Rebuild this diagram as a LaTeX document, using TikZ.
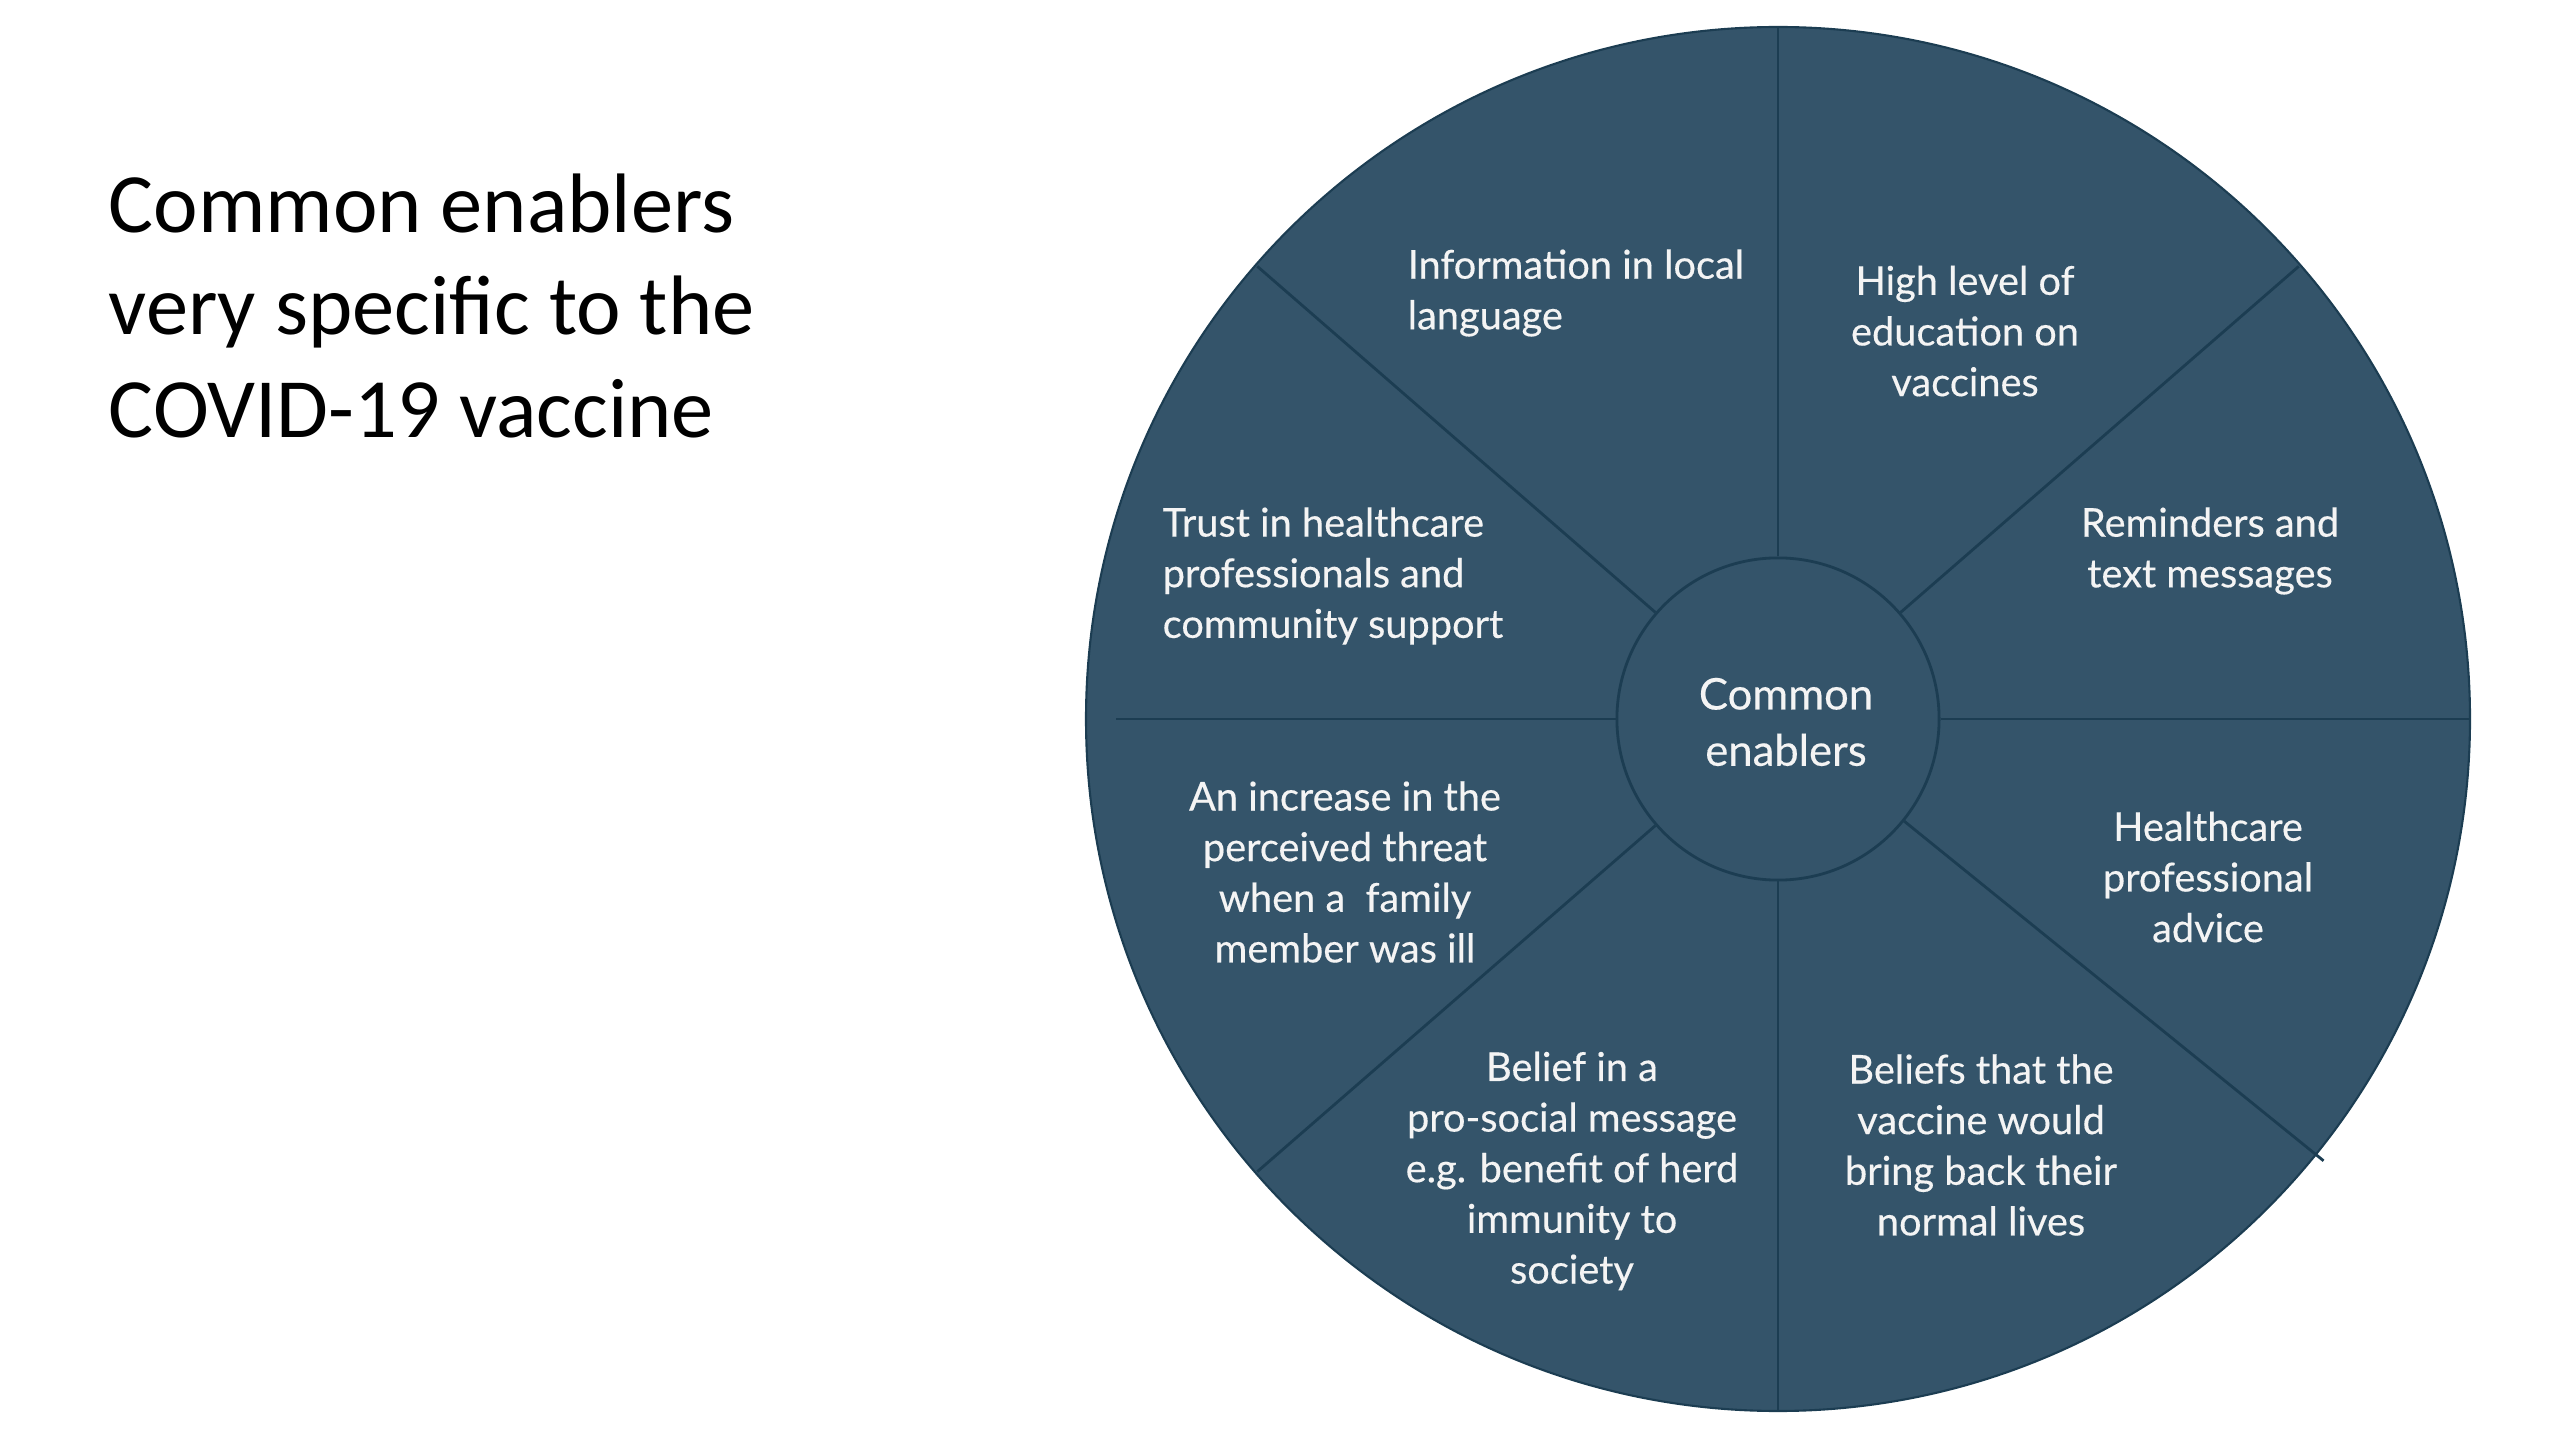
\documentclass[tikz,border=0pt]{standalone}
\usepackage{fontspec}
\setmainfont{Lato}
\newfontfamily\titlefont{Carlito}
\newfontfamily\wheelfont{Lato}[FakeBold=0.35]
\usetikzlibrary{calc}
\definecolor{wheelfill}{HTML}{34546A}
\definecolor{spokecol}{HTML}{1C3D52}
\definecolor{txtcol}{HTML}{F4F4F4}
\begin{document}
\begin{tikzpicture}[x=0.01cm,y=-0.01cm,
  lbl/.style={text=txtcol, font=\wheelfont\fontsize{11.3}{14.4}\selectfont, align=center, inner sep=0pt},
  spoke/.style={draw=spokecol, line width=0.8pt},
  hub/.style={circle, fill=wheelfill, draw=spokecol, line width=0.8pt, minimum size=3.22cm, inner sep=0pt},
  hubtext/.style={text=txtcol, font=\wheelfont\fontsize{12.4}{16}\selectfont, align=center, inner sep=0pt}]
\useasboundingbox (0,0) rectangle (2560,1440);
% title
\node[anchor=north west, align=left, inner sep=0pt, font=\titlefont\fontsize{24}{29.2}\selectfont] (title) at (108,173)
  {Common enablers\\very specific to the\\COVID-19 vaccine};
% wheel
\coordinate (c) at (1778,719);
\fill[wheelfill] (c) circle[radius=692];
\draw[spokecol, line width=0.6pt] (c) circle[radius=692];
\node[hub] (ctr) at (c) {};
\node[hubtext] (ctrtxt) at (1786,722) {Common\\enablers};
\coordinate (oT) at ($(c)+(270:692)$);
\coordinate (oB) at ($(c)+(90:692)$);
\coordinate (oL) at ($(c)+(180:662)$);
\coordinate (oR) at ($(c)+(0:692)$);
\coordinate (oUL) at ($(c)+(221:690)$);
\coordinate (oUR) at ($(c)+(319:690)$);
\coordinate (oLL) at ($(c)+(139:690)$);
\coordinate (oLR) at ($(c)+(39:702)$);
\draw[spoke] (ctr) -- (oT);
\draw[spoke] (ctr) -- (oB);
\draw[spoke] (ctr) -- (oL);
\draw[spoke] (ctr) -- (oR);
\draw[spoke] (ctr) -- (oUL);
\draw[spoke] (ctr) -- (oUR);
\draw[spoke] (ctr) -- (oLL);
\draw[spoke] (ctr) -- (oLR);
% labels
\node[lbl, align=left, anchor=west] (info) at (1407,293) {Information in local\\language};
\node[lbl] (edu) at (1965,331) {High level of\\education on\\vaccines};
\node[lbl] (remind) at (2210,551) {Reminders and\\text messages};
\node[lbl] (advice) at (2208,877) {Healthcare\\professional\\advice};
\node[lbl] (normal) at (1981,1145) {Beliefs that the\\vaccine would\\bring back their\\normal lives};
\node[lbl] (prosocial) at (1572,1171) {Belief in a\\pro-social message\\e.g. benefit of herd\\immunity to\\society};
\node[lbl] (threat) at (1345,872) {An increase in the\\perceived threat\\when a\ \ family\\member was ill};
\node[lbl, align=left, anchor=west] (trust) at (1162,576) {Trust in healthcare\\professionals and\\community support};
\end{tikzpicture}
\end{document}
